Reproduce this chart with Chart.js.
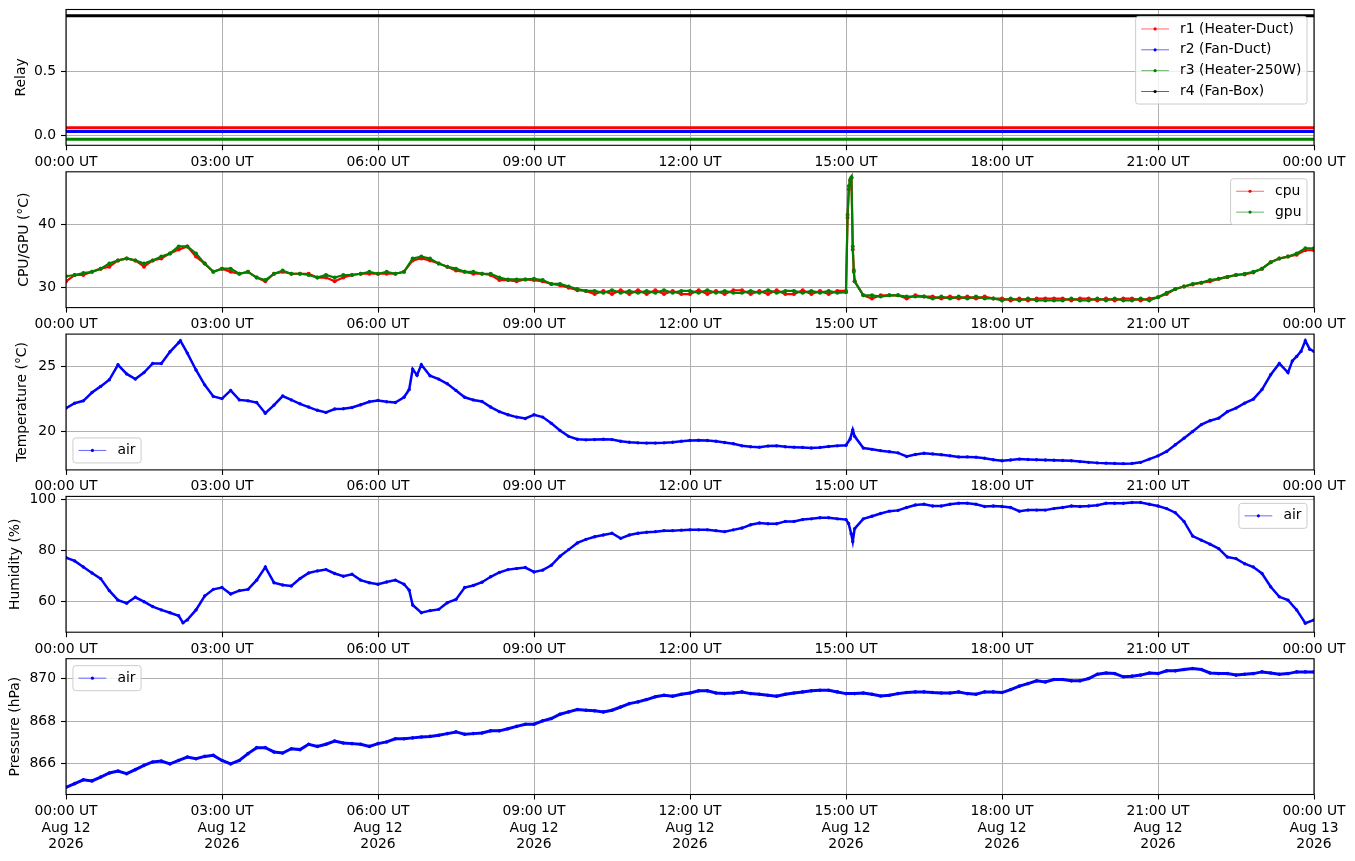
<!DOCTYPE html>
<html>
<head>
<meta charset="utf-8">
<script src="https://cdn.jsdelivr.net/npm/chart.js@4.4.1/dist/chart.umd.min.js"></script>
<style>
  html, body { margin: 0; padding: 0; background: #fff; }
  body { width: 1355px; height: 861px; position: relative; overflow: hidden; }
  canvas { position: absolute; left: 0; }
</style>
</head>
<body>
<script>
// ============================================================
// Station log — relay, CPU/GPU and air sensors, 12 Aug 2026
// ============================================================

// samples every 10 minutes, 00:00 .. 24:00 (145 values per series)
const STEP_MIN = 10;
const X_TICK_HOURS = [0, 3, 6, 9, 12, 15, 18, 21, 24];
const X_DATE_LABELS = ['Aug 12', 'Aug 12', 'Aug 12', 'Aug 12', 'Aug 12', 'Aug 12', 'Aug 12', 'Aug 12', 'Aug 13'];
const YEAR_LABEL = '2026';

const RELAY_LABELS = ['r1 (Heater-Duct)', 'r2 (Fan-Duct)', 'r3 (Heater-250W)', 'r4 (Fan-Box)'];
const RELAY_LEVELS = [0.06, 0.03, -0.03, 0.94];   // state + plotting offset
const RELAY_TICKS = [0, 0.5];

const CPU = [
  31.0, 32.0, 32.0, 32.5, 33.0, 33.3,   34.3, 34.6, 34.3, 33.3, 34.3, 34.6,
  35.4, 36.0, 36.5, 34.9, 33.8, 32.5,   33.0, 32.5, 32.2, 32.5, 31.6, 31.0,
  32.2, 32.5, 32.2, 32.2, 32.2, 31.6,   31.6, 31.0, 31.6, 32.0, 32.2, 32.2,
  32.2, 32.2, 32.2, 32.5, 34.3, 34.6,   34.3, 33.8, 33.3, 32.7, 32.5, 32.2,
  32.2, 32.0, 31.2, 31.2, 31.0, 31.3,   31.2, 31.0, 30.6, 30.4, 30.0, 29.6,
  29.5, 29.0, 29.5, 29.0, 29.6, 29.0,   29.6, 29.0, 29.6, 29.0, 29.5, 29.0,
  29.0, 29.6, 29.0, 29.5, 29.0, 29.6,   29.6, 29.0, 29.5, 29.0, 29.6, 29.0,
  29.0, 29.6, 29.0, 29.5, 29.0, 29.5,   29.5, 31.0, 28.8, 28.3, 28.8, 28.8,
  28.8, 28.3, 28.8, 28.6, 28.6, 28.3,   28.6, 28.3, 28.6, 28.3, 28.6, 28.3,
  28.3, 28.0, 28.3, 28.0, 28.3, 28.3,   28.3, 28.3, 28.0, 28.3, 28.3, 28.0,
  28.3, 28.0, 28.3, 28.3, 28.0, 28.3,   28.5, 29.0, 29.8, 30.2, 30.5, 30.8,
  31.0, 31.4, 31.7, 32.0, 32.1, 32.4,   33.0, 34.0, 34.6, 34.9, 35.2, 35.9,
  35.9
];
const GPU = [
  31.8, 32.0, 32.3, 32.5, 33.0, 33.8,   34.3, 34.6, 34.3, 33.8, 34.3, 34.9,
  35.4, 36.5, 36.5, 35.4, 33.8, 32.5,   33.0, 33.0, 32.2, 32.5, 31.6, 31.2,
  32.2, 32.7, 32.2, 32.2, 32.0, 31.6,   32.0, 31.6, 32.0, 32.0, 32.2, 32.5,
  32.2, 32.5, 32.2, 32.5, 34.6, 34.9,   34.6, 33.8, 33.3, 33.0, 32.5, 32.5,
  32.2, 32.2, 31.6, 31.3, 31.3, 31.3,   31.4, 31.2, 30.6, 30.6, 30.2, 29.8,
  29.5, 29.5, 29.2, 29.6, 29.2, 29.5,   29.2, 29.5, 29.2, 29.6, 29.2, 29.5,
  29.5, 29.2, 29.6, 29.2, 29.5, 29.2,   29.2, 29.5, 29.2, 29.6, 29.2, 29.5,
  29.5, 29.2, 29.5, 29.2, 29.5, 29.2,   29.3, 31.0, 28.8, 28.8, 28.6, 28.8,
  28.8, 28.6, 28.6, 28.6, 28.3, 28.6,   28.3, 28.6, 28.3, 28.6, 28.3, 28.3,
  28.0, 28.3, 28.0, 28.3, 28.0, 28.0,   28.0, 28.0, 28.3, 28.0, 28.0, 28.3,
  28.0, 28.3, 28.0, 28.0, 28.3, 28.0,   28.5, 29.2, 29.8, 30.2, 30.6, 30.8,
  31.2, 31.4, 31.7, 32.0, 32.2, 32.5,   33.0, 34.0, 34.6, 34.9, 35.4, 36.2,
  36.2
];
// extra samples around the 15:05 load spike: [hour, value]
const CPU_SPIKE = [[15.03, 41.0], [15.055, 45.5], [15.08, 46.8], [15.105, 47.3], [15.13, 36.0], [15.15, 32.8]];
const GPU_SPIKE = [[15.03, 41.5], [15.055, 46.0], [15.08, 47.0], [15.105, 47.4], [15.13, 36.5], [15.15, 32.5]];

const AIR_TEMP = [
  21.77, 22.15, 22.33, 22.97, 23.44, 23.95,   25.1, 24.4, 24.0, 24.5, 25.2, 25.2,
  26.1, 26.8, 26.0, 24.7, 23.56, 22.67,       22.5, 23.13, 22.4, 22.33, 22.2, 21.38,
  22.0, 22.7, 22.4, 22.1, 21.85, 21.6,        21.44, 21.7, 21.72, 21.82, 22.03, 22.26,
  22.36, 22.26, 22.2, 22.6, 24.77, 25.1,      24.26, 24.0, 23.64, 23.13, 22.6, 22.4,
  22.28, 21.85, 21.5, 21.26, 21.08, 20.97,    21.26, 21.08, 20.6, 20.05, 19.6, 19.38,
  19.33, 19.35, 19.38, 19.35, 19.22, 19.15,   19.1, 19.08, 19.08, 19.1, 19.15, 19.22,
  19.28, 19.3, 19.28, 19.22, 19.13, 19.03,    18.87, 18.8, 18.77, 18.85, 18.87, 18.8,
  18.77, 18.75, 18.7, 18.75, 18.82, 18.87,    18.92, 19.6, 18.7, 18.6, 18.5, 18.42,
  18.33, 18.05, 18.2, 18.3, 18.25, 18.18,     18.1, 18.02, 18.02, 18.0, 17.92, 17.8,
  17.72, 17.78, 17.85, 17.82, 17.8, 17.78,    17.76, 17.74, 17.72, 17.66, 17.6, 17.56,
  17.54, 17.52, 17.5, 17.52, 17.6, 17.85,     18.1, 18.44, 18.95, 19.46, 19.97, 20.5,
  20.8, 21.0, 21.5, 21.77, 22.15, 22.46,      23.2, 24.33, 25.2, 24.5, 25.74, 26.95,
  26.13
];
const AIR_TEMP_EXTRA = [[2.2, 26.95], [6.6, 23.2], [6.75, 24.3], [15.08, 19.4], [15.13, 20.1],
  [23.583, 25.4], [23.75, 26.13], [23.917, 26.3]];

const AIR_HUM = [
  77.2, 75.9, 73.5, 71.2, 69.0, 64.3,   60.6, 59.4, 61.7, 60.0, 58.1, 56.8,
  55.7, 54.5, 52.9, 56.8, 62.2, 64.8,   65.5, 63.0, 64.3, 64.8, 68.4, 73.5,
  67.4, 66.5, 66.1, 69.0, 71.2, 72.0,   72.5, 71.0, 69.9, 70.7, 68.4, 67.4,
  66.8, 67.7, 68.4, 66.8, 58.7, 55.7,   56.5, 57.0, 59.6, 60.9, 65.5, 66.3,
  67.6, 69.7, 71.4, 72.5, 72.9, 73.3,   71.6, 72.3, 74.2, 77.7, 80.3, 82.9,
  84.3, 85.3, 86.0, 86.7, 84.7, 86.0,   86.7, 87.1, 87.3, 87.7, 87.7, 87.9,
  88.0, 88.0, 88.0, 87.7, 87.3, 88.0,   88.7, 90.0, 90.7, 90.4, 90.4, 91.3,
  91.3, 92.0, 92.3, 92.7, 92.7, 92.3,   92.0, 88.5, 92.3, 93.3, 94.4, 95.3,
  95.6, 96.7, 97.7, 98.0, 97.3, 97.3,   98.0, 98.4, 98.4, 98.0, 97.1, 97.3,
  97.1, 96.7, 95.3, 95.7, 95.7, 95.7,   96.3, 96.7, 97.3, 97.1, 97.3, 97.6,
  98.4, 98.4, 98.4, 98.7, 98.7, 98.0,   97.3, 96.3, 94.7, 91.3, 85.6, 84.0,
  82.4, 80.7, 77.4, 76.8, 74.8, 73.5,   71.0, 65.8, 61.9, 60.6, 56.8, 51.6,
  52.9
];
const AIR_HUM_EXTRA = [[2.25, 51.8], [6.6, 64.5], [15.05, 90.5], [15.1, 86.5], [15.13, 83.5]];

const AIR_PRESS = [
  864.90, 865.07, 865.25, 865.20, 865.38, 865.57,   865.66, 865.54, 865.73, 865.93, 866.09, 866.13,
  866.00, 866.16, 866.32, 866.24, 866.35, 866.40,   866.16, 866.00, 866.16, 866.48, 866.76, 866.76,
  866.56, 866.51, 866.71, 866.67, 866.92, 866.82,   866.92, 867.07, 866.98, 866.95, 866.92, 866.82,
  866.95, 867.03, 867.18, 867.18, 867.22, 867.26,   867.29, 867.34, 867.42, 867.50, 867.39, 867.42,
  867.45, 867.55, 867.55, 867.65, 867.76, 867.86,   867.86, 868.02, 868.13, 868.33, 868.44, 868.55,
  868.52, 868.49, 868.44, 868.52, 868.67, 868.83,   868.91, 869.02, 869.15, 869.22, 869.18, 869.27,
  869.33, 869.43, 869.43, 869.33, 869.30, 869.33,   869.38, 869.30, 869.27, 869.22, 869.18, 869.27,
  869.33, 869.38, 869.43, 869.46, 869.46, 869.38,   869.30, 869.30, 869.33, 869.27, 869.19, 869.22,
  869.30, 869.35, 869.38, 869.38, 869.35, 869.33,   869.33, 869.38, 869.30, 869.27, 869.38, 869.38,
  869.35, 869.49, 869.65, 869.77, 869.90, 869.85,   869.96, 869.96, 869.90, 869.90, 870.01, 870.21,
  870.27, 870.24, 870.09, 870.12, 870.17, 870.27,   870.24, 870.37, 870.37, 870.43, 870.48, 870.43,
  870.27, 870.24, 870.24, 870.17, 870.21, 870.24,   870.32, 870.27, 870.21, 870.24, 870.32, 870.32,
  870.32
];

const CPU_TICKS = [30, 40];
const TEMP_TICKS = [20, 25];
const HUM_TICKS = [60, 80, 100];
const PRESS_TICKS = [866, 868, 870];

// ---------------- styling ----------------
const FONT_FAMILY = 'DejaVu Sans';
const FONT_SIZE = 13.9;
const PLOT_LEFT = 66, PLOT_RIGHT = 1314, PLOT_H = 135.8;
const PANEL_TOPS = [9.5, 171.8, 334.1, 496.4, 658.7];
const TOP_ROOM = 20;   // must exceed Chart.js' own half-label padding

Chart.defaults.font.family = FONT_FAMILY;
Chart.defaults.font.size = FONT_SIZE;
Chart.defaults.color = '#000';

const hours = () => AIR_TEMP.map((_, i) => i * STEP_MIN / 60);

function series(values, extra) {
  const pts = values.map((v, i) => ({ x: i * STEP_MIN / 60, y: v }));
  (extra || []).forEach(([x, y]) => pts.push({ x, y }));
  return pts.sort((a, b) => a.x - b.x);
}

function lineSet(label, data, color, width, radius) {
  return {
    label, data,
    borderColor: color, backgroundColor: color,
    borderWidth: width,
    pointRadius: radius, pointBorderWidth: 0, pointBackgroundColor: color,
    tension: 0, fill: false,
  };
}

const hhmm = v => String(v % 24).padStart(2, '0') + ':00 UT';

// spines on all four sides
const framePlugin = {
  id: 'frame',
  afterDatasetsDraw(chart) {
    const { ctx, chartArea: a } = chart;
    ctx.save();
    ctx.strokeStyle = '#000';
    ctx.lineWidth = 1.1;
    ctx.strokeRect(a.left, a.top, a.right - a.left, a.bottom - a.top);
    ctx.restore();
  },
};

// matplotlib-like legend drawn inside the axes
const legendPlugin = {
  id: 'mplLegend',
  afterDraw(chart, args, opts) {
    if (!opts.loc) return;
    const { ctx, chartArea: a } = chart;
    const fs = FONT_SIZE;
    const sets = chart.data.datasets;
    ctx.save();
    ctx.font = `${fs}px "${FONT_FAMILY}"`;
    const textW = Math.max(...sets.map(d => ctx.measureText(d.label).width));
    const pad = 0.4 * fs, handleLen = 2 * fs, handlePad = 0.8 * fs, rowGap = 0.5 * fs, axPad = 0.5 * fs;
    const w = 2 * pad + handleLen + handlePad + textW;
    const h = 2 * pad + sets.length * fs + (sets.length - 1) * rowGap;
    const x0 = opts.loc.includes('right') ? a.right - axPad - w : a.left + axPad;
    const y0 = opts.loc.includes('upper') ? a.top + axPad : a.bottom - axPad - h;

    ctx.beginPath();
    ctx.roundRect(x0, y0, w, h, 0.2 * fs);
    ctx.fillStyle = 'rgba(255,255,255,0.8)';
    ctx.fill();
    ctx.strokeStyle = '#cccccc';
    ctx.lineWidth = 1;
    ctx.stroke();

    sets.forEach((d, i) => {
      const cy = y0 + pad + i * (fs + rowGap) + fs / 2;
      const hx = x0 + pad;
      ctx.globalAlpha = 0.75;
      ctx.strokeStyle = d.borderColor;
      ctx.lineWidth = 0.8;
      ctx.beginPath();
      ctx.moveTo(hx, cy);
      ctx.lineTo(hx + handleLen, cy);
      ctx.stroke();
      ctx.globalAlpha = 1;
      ctx.fillStyle = d.borderColor;
      ctx.beginPath();
      ctx.arc(hx + handleLen / 2, cy, 1.6, 0, Math.PI * 2);
      ctx.fill();
      ctx.fillStyle = '#000';
      ctx.textBaseline = 'middle';
      ctx.textAlign = 'left';
      ctx.fillText(d.label, hx + handleLen + handlePad, cy);
    });
    ctx.restore();
  },
};

// ---------------- panels ----------------
const panels = [
  {
    title: 'Relay', titlePad: 13, yMin: -0.0785, yMax: 0.9885, ticks: RELAY_TICKS,
    fmt: v => v.toFixed(1), legend: 'upper right',
    datasets: RELAY_LABELS.map((lab, i) => lineSet(lab,
      hours().map(x => ({ x, y: RELAY_LEVELS[i] })), ['#ff0000', '#0000ff', '#008000', '#000000'][i], 3, 0)),
  },
  {
    title: 'CPU/GPU (°C)', titlePad: 16.5, yMin: 26.87, yMax: 48.25, ticks: CPU_TICKS,
    fmt: v => String(v), legend: 'upper right',
    datasets: [
      lineSet('cpu', series(CPU, CPU_SPIKE), '#ff0000', 2.2, 2),
      lineSet('gpu', series(GPU, GPU_SPIKE), '#008000', 2.2, 2),
    ],
  },
  {
    title: 'Temperature (°C)', titlePad: 14, yMin: 17.02, yMax: 27.46, ticks: TEMP_TICKS,
    fmt: v => String(v), legend: 'lower left',
    datasets: [lineSet('air', series(AIR_TEMP, AIR_TEMP_EXTRA), '#0000ff', 2.5, 1.7)],
  },
  {
    title: 'Humidity (%)', titlePad: 7, yMin: 48.1, yMax: 101.05, ticks: HUM_TICKS,
    fmt: v => String(v), legend: 'upper right',
    datasets: [lineSet('air', series(AIR_HUM, AIR_HUM_EXTRA), '#0000ff', 2.5, 1.7)],
  },
  {
    title: 'Pressure (hPa)', titlePad: 7.5, yMin: 864.56, yMax: 870.94, ticks: PRESS_TICKS,
    fmt: v => String(v), legend: 'upper left', last: true,
    datasets: [lineSet('air', series(AIR_PRESS), '#0000ff', 3, 1.8)],
  },
];

panels.forEach((p, idx) => {
  const plotTop = PANEL_TOPS[idx];
  const canvasTop = Math.floor(plotTop) - TOP_ROOM;
  const padTop = plotTop - canvasTop;
  const xh = p.last ? 68 : 26;
  const canvasH = Math.ceil(padTop + PLOT_H + xh);

  const canvas = document.createElement('canvas');
  canvas.width = 1355;
  canvas.height = canvasH;
  canvas.style.top = canvasTop + 'px';
  canvas.style.width = '1355px';
  canvas.style.height = canvasH + 'px';
  document.body.appendChild(canvas);

  // matplotlib draws later series on top
  p.datasets.forEach((d, i) => { d.order = p.datasets.length - i; });

  new Chart(canvas, {
    type: 'line',
    data: { datasets: p.datasets },
    plugins: [framePlugin, legendPlugin],
    options: {
      responsive: false, animation: false, devicePixelRatio: 1,
      layout: { padding: { top: padTop, left: 0, right: 1355 - PLOT_RIGHT, bottom: canvasH - (padTop + PLOT_H + xh) } },
      plugins: {
        legend: { display: false }, tooltip: { enabled: false },
        mplLegend: { loc: p.legend },
      },
      scales: {
        x: {
          type: 'linear', min: 0, max: 24,
          afterBuildTicks: axis => { axis.ticks = X_TICK_HOURS.map(v => ({ value: v })); },
          afterFit: scale => { scale.height = xh; },
          grid: { color: '#b0b0b0', lineWidth: 1, tickLength: 5, tickColor: '#000', tickWidth: 1.1 },
          border: { display: false },
          ticks: {
            autoSkip: false, maxRotation: 0, minRotation: 0, padding: 3.5, color: '#000',
            callback: v => p.last
              ? [hhmm(v), X_DATE_LABELS[X_TICK_HOURS.indexOf(v)], YEAR_LABEL]
              : hhmm(v),
          },
        },
        y: {
          type: 'linear', min: p.yMin, max: p.yMax,
          afterBuildTicks: axis => { axis.ticks = p.ticks.map(v => ({ value: v })); },
          afterFit: scale => { scale.width = PLOT_LEFT; },
          grid: { color: '#b0b0b0', lineWidth: 1, tickLength: 5, tickColor: '#000', tickWidth: 1.1 },
          border: { display: false },
          ticks: { padding: 5, color: '#000', callback: p.fmt },
          title: { display: true, text: p.title, color: '#000', padding: { top: p.titlePad, bottom: 0 } },
        },
      },
    },
  });
});
</script>
</body>
</html>
